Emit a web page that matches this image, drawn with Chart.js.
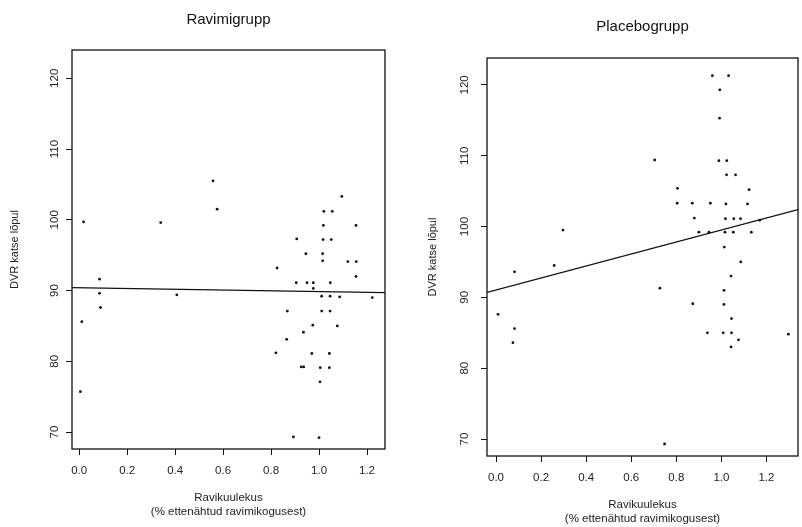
<!DOCTYPE html>
<html>
<head>
<meta charset="utf-8">
<script src="https://cdn.jsdelivr.net/npm/chart.js@4.4.1/dist/chart.umd.min.js"></script>
<style>
  html, body { margin: 0; padding: 0; background: #fff; }
  #wrap { position: relative; width: 802px; height: 527px; }
  canvas { position: absolute; top: 0; }
</style>
</head>
<body>
<div id="wrap">
  <canvas id="left" width="401" height="527" style="left:0"></canvas>
  <canvas id="right" width="401" height="527" style="left:401px"></canvas>
</div>
<script>
// ---- Data ----
const titleLeft = "Ravimigrupp";
const titleRight = "Placebogrupp";
const yAxisTitle = "DVR katse lõpul";
const xAxisTitle = ["Ravikuulekus", "(% ettenähtud ravimikogusest)"];
const xTickValues = [0.0, 0.2, 0.4, 0.6, 0.8, 1.0, 1.2];
const yTickValues = [70, 80, 90, 100, 110, 120];

// Ravimigrupp (treatment group): adherence x, DVR y
const drugX = [0.018, 0.085, 0.34, 0.558, 0.575, 1.095, 1.02, 1.055, 1.018, 1.154,
  0.907, 1.017, 1.051, 0.945, 1.015, 1.015, 1.12, 1.155, 0.825, 1.154,
  0.905, 0.95, 0.976, 1.047, 0.976, 0.085, 0.407, 0.089, 0.011, 0.005,
  1.011, 1.046, 1.086, 1.222, 0.868, 1.011, 1.046, 0.974, 1.076, 0.935,
  0.865, 0.82, 0.97, 1.043, 0.926, 0.936, 1.005, 1.043, 1.004, 0.893, 1.0];
const drugY = [99.7, 91.6, 99.6, 105.5, 101.5, 103.3, 101.2, 101.2, 99.2, 99.2,
  97.3, 97.2, 97.2, 95.2, 95.2, 94.2, 94.1, 94.1, 93.2, 92.0,
  91.1, 91.1, 91.1, 91.1, 90.3, 89.6, 89.4, 87.6, 85.6, 75.7,
  89.2, 89.2, 89.1, 89.0, 87.1, 87.1, 87.1, 85.1, 85.0, 84.1,
  83.1, 81.2, 81.1, 81.1, 79.2, 79.2, 79.1, 79.1, 77.1, 69.3, 69.2];
const drugFitX = [-0.03, 1.275];
const drugFitY = [90.4, 89.7];

// Placebogrupp (placebo group)
const placeboX = [0.082, 0.258, 0.297, 0.704, 0.96, 1.032, 0.993, 0.992, 0.989, 1.024,
  1.023, 1.063, 0.805, 1.123, 0.804, 0.871, 0.951, 1.02, 1.116, 0.88,
  1.018, 1.055, 1.085, 1.17, 0.9, 0.945, 1.016, 1.053, 1.133, 1.013,
  1.086, 1.043, 0.727, 1.012, 0.009, 0.082, 0.075, 0.873, 1.011, 1.045,
  0.938, 1.008, 1.045, 1.076, 1.043, 1.297, 0.748];
const placeboY = [93.6, 94.5, 99.5, 109.4, 121.3, 121.3, 119.3, 115.3, 109.3, 109.3,
  107.3, 107.3, 105.4, 105.2, 103.3, 103.3, 103.3, 103.2, 103.2, 101.2,
  101.1, 101.1, 101.1, 100.9, 99.2, 99.2, 99.2, 99.2, 99.2, 97.1,
  95.0, 93.0, 91.3, 91.0, 87.6, 85.6, 83.6, 89.1, 89.0, 87.0,
  85.0, 85.0, 85.0, 84.0, 83.0, 84.8, 69.3];
const placeboFitX = [-0.04, 1.34];
const placeboFitY = [90.7, 102.4];

// ---- Chart construction ----
const FONT = "'Liberation Sans', Arial, Helvetica, sans-serif";
const toPts = (xs, ys) => xs.map((x, i) => ({ x: x, y: ys[i] }));

const framePlugin = {
  id: 'frame',
  afterDraw(chart, args, opts) {
    const { ctx, chartArea: a, scales } = chart;
    ctx.save();
    ctx.strokeStyle = '#111';
    ctx.lineWidth = 1.3;
    ctx.strokeRect(a.left, a.top, a.right - a.left, a.bottom - a.top);
    // rotated y tick labels (R style, parallel to the axis)
    ctx.fillStyle = '#222';
    ctx.font = '11.5px ' + FONT;
    ctx.textAlign = 'center';
    ctx.textBaseline = 'middle';
    const ys = scales.y;
    yTickValues.forEach(v => {
      const py = ys.getPixelForValue(v);
      ctx.save();
      ctx.translate(a.left - opts.labelOffset, py);
      ctx.rotate(-Math.PI / 2);
      ctx.fillText(String(v), 0, 0);
      ctx.restore();
    });
    ctx.restore();
  }
};

function makeChart(id, title, xs, ys, fx, fy, cfg) {
  return new Chart(document.getElementById(id), {
    type: 'scatter',
    data: {
      datasets: [
        {
          data: toPts(xs, ys),
          backgroundColor: '#111',
          borderColor: '#111',
          pointRadius: 1.4,
          pointBorderWidth: 0
        },
        {
          type: 'line',
          data: toPts(fx, fy),
          borderColor: '#111',
          borderWidth: 1.3,
          pointRadius: 0,
          fill: false
        }
      ]
    },
    options: {
      responsive: false,
      animation: false,
      devicePixelRatio: 1,
      layout: { padding: { left: 0, right: cfg.padRight, top: cfg.padTop, bottom: 0 } },
      plugins: {
        legend: { display: false },
        tooltip: { enabled: false },
        title: {
          display: true,
          text: title,
          fullSize: false,
          color: '#111',
          font: { family: FONT, size: 15, weight: 'normal' },
          padding: { top: cfg.titleTop, bottom: cfg.titleBottom }
        },
        frame: { labelOffset: cfg.labelOffset }
      },
      scales: {
        x: {
          type: 'linear',
          min: cfg.xMin, max: cfg.xMax,
          afterBuildTicks: s => { s.ticks = xTickValues.map(v => ({ value: v })); },
          afterFit: s => { s.height = cfg.xAxisHeight; },
          grid: { display: true, drawOnChartArea: false, drawTicks: true, tickLength: 6, color: '#111', lineWidth: 1 },
          border: { display: false },
          ticks: {
            color: '#222',
            padding: cfg.xTickPad,
            maxRotation: 0, minRotation: 0,
            font: { family: FONT, size: 11.5 },
            callback: v => Number(v).toFixed(1)
          },
          title: {
            display: true,
            text: xAxisTitle,
            color: '#222',
            font: { family: FONT, size: 11.5 },
            padding: { top: 0, bottom: cfg.xTitlePad }
          }
        },
        y: {
          type: 'linear',
          min: cfg.yMin, max: cfg.yMax,
          afterBuildTicks: s => { s.ticks = yTickValues.map(v => ({ value: v })); },
          afterFit: s => { s.width = cfg.yAxisWidth; },
          grid: { display: true, drawOnChartArea: false, drawTicks: true, tickLength: 6, color: '#111', lineWidth: 1 },
          border: { display: false },
          ticks: { display: false },
          title: {
            display: true,
            text: yAxisTitle,
            color: '#222',
            font: { family: FONT, size: 11 },
            padding: { top: cfg.yTitlePad, bottom: 0 }
          }
        }
      }
    },
    plugins: [framePlugin]
  });
}

makeChart('left', titleLeft, drugX, drugY, drugFitX, drugFitY, {
  xMin: -0.03, xMax: 1.275, yMin: 67.6, yMax: 124.0,
  padRight: 16, padTop: 0, titleTop: 11, titleBottom: 21,
  xAxisHeight: 78, yAxisWidth: 72, xTickPad: 9, xTitlePad: 8,
  yTitlePad: 8, labelOffset: 17
});

makeChart('right', titleRight, placeboX, placeboY, placeboFitX, placeboFitY, {
  xMin: -0.04, xMax: 1.34, yMin: 67.6, yMax: 123.8,
  padRight: 2, padTop: 0, titleTop: 18, titleBottom: 22,
  xAxisHeight: 71, yAxisWidth: 86, xTickPad: 9, xTitlePad: 1,
  yTitlePad: 25, labelOffset: 22
});
</script>
</body>
</html>
